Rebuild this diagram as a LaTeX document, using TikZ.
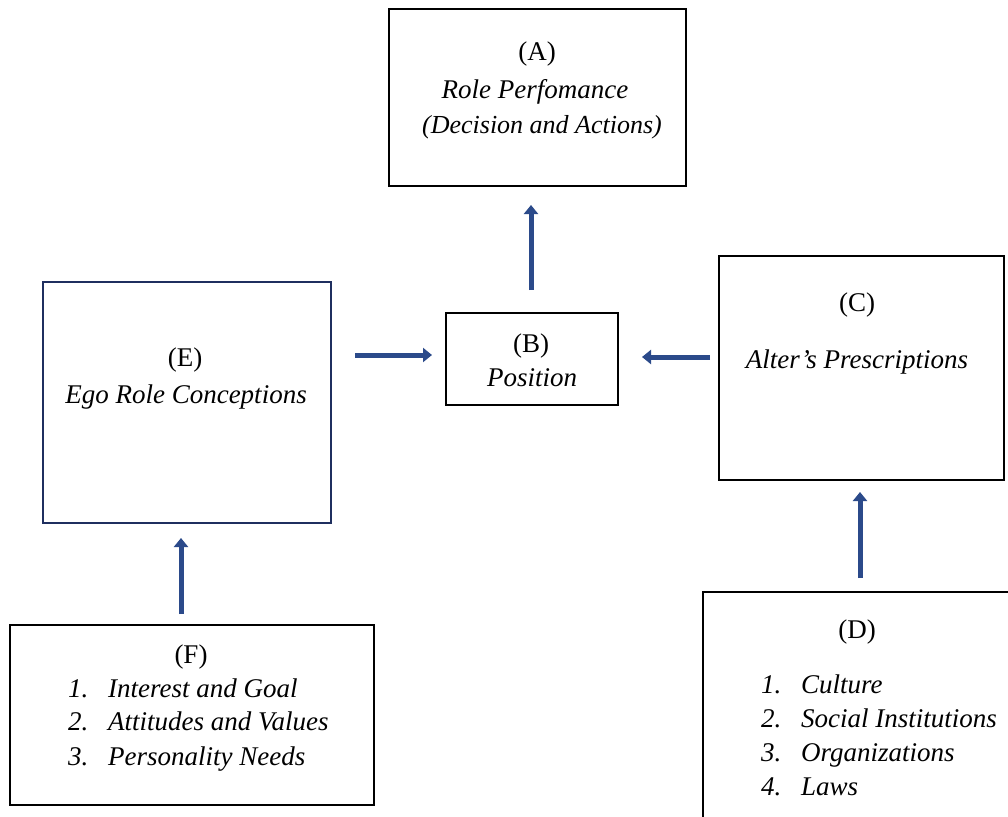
\documentclass[tikz,border=0pt]{standalone}
\usepackage{fontspec}
\setmainfont{Liberation Serif}
\usetikzlibrary{arrows.meta}
\definecolor{navy}{HTML}{1F2F5F}
\definecolor{arrowblue}{HTML}{2B4A8A}
\tikzset{
  box/.style={draw=black, line width=2pt, inner sep=0pt, fill=white},
  ebox/.style={draw=navy, line width=2pt, inner sep=0pt, fill=white},
  txt/.style={font=\fontsize{27}{32}\selectfont, inner sep=0pt, anchor=base},
  itx/.style={font=\fontsize{27}{32}\selectfont\itshape, inner sep=0pt, anchor=base},
  litx/.style={font=\fontsize{27}{32}\selectfont\itshape, inner sep=0pt, anchor=base west},
  blockarrow/.style={draw=arrowblue, line width=5pt, -{Triangle[width=14pt,length=9pt]}},
}
\begin{document}
\begin{tikzpicture}[x=1pt,y=-1pt]
\useasboundingbox (0,0) rectangle (1008,816);
\begin{scope}
\clip (0,0) rectangle (1008,816);
% boxes
\node[box, minimum width=297pt, minimum height=177pt] (A) at (537.5,97.5) {};
\node[box, minimum width=172pt, minimum height=92pt] (B) at (532,359) {};
\node[box, minimum width=285pt, minimum height=224pt] (C) at (861.5,368) {};
\node[box, minimum width=330pt, minimum height=240pt] (D) at (868,712) {};
\node[ebox, minimum width=288pt, minimum height=241pt] (E) at (187,402.5) {};
\node[box, minimum width=364pt, minimum height=180pt] (F) at (192,715) {};
\end{scope}
% texts
\node[txt] (At) at (537,60) {(A)};
\node[itx] (A1) at (535,98) {Role Perfomance};
\node[itx, font=\fontsize{26}{32}\selectfont\itshape] (A2) at (542,133) {(Decision and Actions)};
\node[txt] (Bt) at (531,352) {(B)};
\node[itx] (B1) at (532,386) {Position};
\node[txt] (Ct) at (857,311) {(C)};
\node[itx] (C1) at (857,368) {Alter’s Prescriptions};
\node[txt] (Et) at (185,366) {(E)};
\node[itx] (E1) at (186,403) {Ego Role Conceptions};
\node[txt] (Ft) at (191,663) {(F)};
\node[litx] (F1n) at (68,697) {1.};
\node[litx] (F1) at (108,697) {Interest and Goal};
\node[litx] (F2n) at (68,730) {2.};
\node[litx] (F2) at (108,730) {Attitudes and Values};
\node[litx] (F3n) at (68,765) {3.};
\node[litx] (F3) at (108,765) {Personality Needs};
\node[txt] (Dt) at (857,638) {(D)};
\node[litx] (D1n) at (761,693) {1.};
\node[litx] (D1) at (801,693) {Culture};
\node[litx] (D2n) at (761,727) {2.};
\node[litx] (D2) at (801,727) {Social Institutions};
\node[litx] (D3n) at (761,761) {3.};
\node[litx] (D3) at (801,761) {Organizations};
\node[litx] (D4n) at (761,795) {4.};
\node[litx] (D4) at (801,795) {Laws};
% arrow end coordinates
\coordinate (eb1) at (355,355);
\coordinate (eb2) at (432,355);
\coordinate (cb1) at (710,357);
\coordinate (cb2) at (642,357);
\coordinate (ba1) at (531,290);
\coordinate (ba2) at (531,205);
\coordinate (dc1) at (860,578);
\coordinate (dc2) at (860,492);
\coordinate (fe1) at (181,614);
\coordinate (fe2) at (181,538);
\draw[blockarrow] (eb1) -- (eb2);
\draw[blockarrow] (cb1) -- (cb2);
\draw[blockarrow] (ba1) -- (ba2);
\draw[blockarrow] (dc1) -- (dc2);
\draw[blockarrow] (fe1) -- (fe2);
\end{tikzpicture}
\end{document}
